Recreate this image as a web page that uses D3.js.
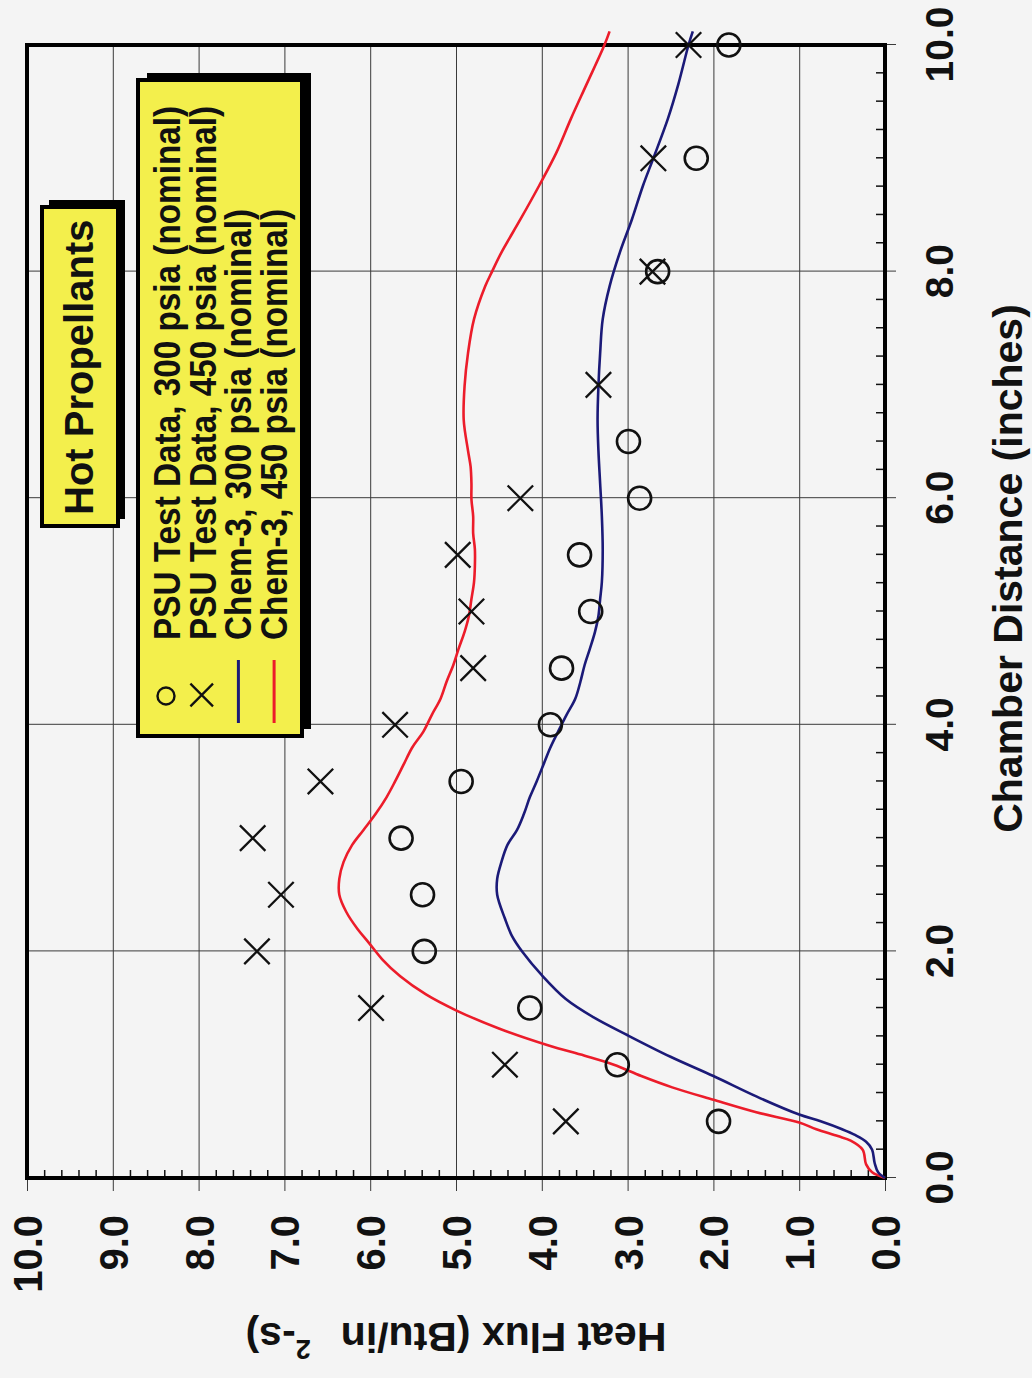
<!DOCTYPE html>
<html>
<head>
<meta charset="UTF-8">
<title>Hot Propellants - Heat Flux vs Chamber Distance</title>
<script src="https://d3js.org/d3.v7.min.js"></script>
<style>
  body { margin: 0; background: #f4f4f4; }
  svg { display: block; font-family: "Liberation Sans", Arial, Helvetica, sans-serif; font-weight: bold; }
</style>
</head>
<body>
<svg id="chart" width="1032" height="1378"></svg>
<script>
// ---- data ----
const distMajor = [0, 2, 4, 6, 8, 10];
const fluxMajor = [0, 1, 2, 3, 4, 5, 6, 7, 8, 9, 10];

// PSU test data, 300 psia (circles)
const psu300Dist = [0.5, 1, 1.5, 2, 2.5, 3, 3.5, 4, 4.5, 5, 5.5, 6, 6.5, 8, 9, 10];
const psu300Flux = [1.94, 3.12, 4.14, 5.37, 5.39, 5.64, 4.94, 3.90, 3.77, 3.43, 3.56, 2.86, 2.99, 2.65, 2.20, 1.82];

// PSU test data, 450 psia (crosses)
const psu450Dist = [0.5, 1, 1.5, 2, 2.5, 3, 3.5, 4, 4.5, 5, 5.5, 6, 7, 8, 9, 10];
const psu450Flux = [3.72, 4.43, 5.99, 7.32, 7.04, 7.37, 6.58, 5.71, 4.80, 4.82, 4.98, 4.25, 3.34, 2.71, 2.70, 2.29];

// Chem-3, 300 psia (blue)
const chem300Dist = [0, 0.05, 0.13, 0.25, 0.32, 0.38, 0.43, 0.5, 0.56, 0.72, 0.9, 1.07, 1.26, 1.42, 1.58, 1.79, 1.99, 2.14, 2.29, 2.5,
  2.64, 2.79, 2.94, 3.07, 3.21, 3.36, 3.5, 3.65, 3.8, 3.94, 4.09, 4.23, 4.38, 4.53, 4.67, 4.82, 4.96, 5.11, 5.26, 5.55,
  5.84, 6.13, 6.42, 6.69, 6.99, 7.28, 7.58, 7.87, 8.17, 8.46, 8.76, 9.0, 9.35, 9.65, 10.0, 10.12];
const chem300Flux = [0, 0.08, 0.12, 0.15, 0.22, 0.35, 0.5, 0.75, 1.0, 1.5, 2.0, 2.5, 3.0, 3.4, 3.72, 4.0, 4.22, 4.35, 4.43, 4.52,
  4.52, 4.47, 4.4, 4.29, 4.21, 4.14, 4.06, 3.98, 3.9, 3.81, 3.71, 3.61, 3.55, 3.5, 3.44, 3.38, 3.34, 3.32, 3.3, 3.29,
  3.3, 3.32, 3.34, 3.35, 3.34, 3.32, 3.29, 3.21, 3.09, 2.95, 2.82, 2.7, 2.53, 2.41, 2.29, 2.24];

// Chem-3, 450 psia (red)
const chem450Dist = [0, 0.05, 0.12, 0.25, 0.33, 0.37, 0.43, 0.49, 0.58, 0.69, 0.80, 0.90, 1.0, 1.08, 1.17, 1.32, 1.48, 1.62, 1.78, 1.93,
  2.08, 2.2, 2.35, 2.5, 2.64, 2.79, 2.94, 3.07, 3.21, 3.36, 3.5, 3.65, 3.8, 3.94, 4.09, 4.23, 4.38, 4.53, 4.67, 4.82,
  4.96, 5.11, 5.26, 5.4, 5.55, 5.69, 5.84, 5.99, 6.13, 6.28, 6.42, 6.69, 6.99, 7.28, 7.58, 7.87, 8.0, 8.17, 8.46, 8.76,
  9.05, 9.35, 9.65, 10.0, 10.12];
const chem450Flux = [0, 0.15, 0.22, 0.26, 0.4, 0.55, 0.8, 1.0, 1.5, 2.0, 2.48, 2.84, 3.16, 3.5, 3.92, 4.5, 5.0, 5.35, 5.65, 5.86,
  6.02, 6.15, 6.28, 6.36, 6.36, 6.31, 6.21, 6.08, 5.94, 5.81, 5.71, 5.61, 5.51, 5.38, 5.28, 5.18, 5.11, 5.03, 4.97, 4.90,
  4.85, 4.82, 4.79, 4.78, 4.78, 4.80, 4.80, 4.82, 4.82, 4.83, 4.86, 4.91, 4.90, 4.86, 4.79, 4.66, 4.58, 4.47, 4.25, 4.03,
  3.83, 3.66, 3.48, 3.27, 3.21];

const legendLabels = ["PSU Test Data, 300 psia (nominal)", "PSU Test Data, 450 psia (nominal)",
  "Chem-3, 300 psia (nominal)", "Chem-3, 450 psia (nominal)"];

// ---- chart ----
const W = 1133, H = 858;
const blue = "#1b1a78", red = "#ec1c2a", yellow = "#f3ef4c";

const x = d3.scaleLinear([0, 10], [0, W]);
const y = d3.scaleLinear([0, 10], [H, 0]);

// the whole plot is turned a quarter turn counter-clockwise on the page
const g = d3.select("#chart").append("g")
  .attr("transform", "translate(27,1178) rotate(-90)");

// grid lines (run a little past the frame as major ticks)
g.append("g").attr("transform", `translate(0,${H + 11})`)
  .call(d3.axisBottom(x).tickValues(distMajor).tickSize(-(H + 11)).tickFormat(""))
  .call(a => a.select(".domain").remove())
  .selectAll("line").attr("stroke", "#3a3a3a").attr("stroke-width", 1);

g.append("g").attr("transform", "translate(-13,0)")
  .call(d3.axisLeft(y).tickValues(fluxMajor).tickSize(-(W + 13)).tickFormat(""))
  .call(a => a.select(".domain").remove())
  .selectAll("line").attr("stroke", "#3a3a3a").attr("stroke-width", 1);

// minor ticks, pointing inward
const distMinor = d3.range(0.25, 10, 0.25).filter(d => Math.abs(d / 2 - Math.round(d / 2)) > 1e-6);
const fluxMinor = d3.range(0.2, 10, 0.2).filter(d => Math.abs(d - Math.round(d)) > 1e-6);

g.append("g").attr("transform", `translate(0,${H})`)
  .call(d3.axisBottom(x).tickValues(distMinor).tickSize(-9).tickFormat(""))
  .call(a => a.select(".domain").remove())
  .selectAll("line").attr("stroke", "#111").attr("stroke-width", 1.5);

g.append("g")
  .call(d3.axisLeft(y).tickValues(fluxMinor).tickSize(-8).tickFormat(""))
  .call(a => a.select(".domain").remove())
  .selectAll("line").attr("stroke", "#111").attr("stroke-width", 1.5);

// tick labels
g.append("g").attr("transform", `translate(0,${H})`)
  .call(d3.axisBottom(x).tickValues(distMajor).tickSize(0).tickFormat(d3.format(".1f")))
  .call(a => a.select(".domain").remove())
  .selectAll("text")
  .attr("y", 68).attr("dy", 0)
  .attr("font-size", 39).attr("font-weight", "bold")
  .attr("font-family", "Liberation Sans, Arial, sans-serif").attr("fill", "#111");

g.append("g")
  .call(d3.axisLeft(y).tickValues(fluxMajor).tickSize(0).tickPadding(37).tickFormat(d3.format(".1f")))
  .call(a => a.select(".domain").remove())
  .selectAll("text")
  .attr("dy", "0.36em")
  .attr("font-size", 40).attr("font-weight", "bold")
  .attr("font-family", "Liberation Sans, Arial, sans-serif").attr("fill", "#111");

// axis titles
g.append("text")
  .attr("x", W / 2 + 43).attr("y", 995)
  .attr("text-anchor", "middle").attr("font-size", 41).attr("fill", "#111")
  .text("Chamber Distance (inches)");

const yt = g.append("text")
  .attr("transform", `translate(-145,${H / 2}) rotate(-90)`)
  .attr("text-anchor", "middle").attr("font-size", 41).attr("fill", "#111");
yt.append("tspan").text("Heat Flux (Btu/in");
yt.append("tspan").attr("dx", 30).attr("dy", -17).attr("font-size", 27).text("2");
yt.append("tspan").attr("dy", 17).text("-s)");

// plot frame
g.append("rect")
  .attr("x", 0).attr("y", 0).attr("width", W).attr("height", H)
  .attr("fill", "none").attr("stroke", "#000").attr("stroke-width", 4);

// model curves
const line = d3.line().x(d => x(d[0])).y(d => y(d[1])).curve(d3.curveCatmullRom.alpha(0.5));

g.append("path")
  .datum(d3.zip(chem450Dist, chem450Flux))
  .attr("d", line).attr("fill", "none").attr("stroke", red).attr("stroke-width", 2.6);

g.append("path")
  .datum(d3.zip(chem300Dist, chem300Flux))
  .attr("d", line).attr("fill", "none").attr("stroke", blue).attr("stroke-width", 2.6);

// test data markers
g.append("g").selectAll("circle")
  .data(d3.zip(psu300Dist, psu300Flux))
  .join("circle")
  .attr("cx", d => x(d[0])).attr("cy", d => y(d[1])).attr("r", 11.5)
  .attr("fill", "none").attr("stroke", "#111").attr("stroke-width", 2.6);

g.append("g").selectAll("path")
  .data(d3.zip(psu450Dist, psu450Flux))
  .join("path")
  .attr("transform", d => `translate(${x(d[0])},${y(d[1])}) rotate(45)`)
  .attr("d", "M-18,0H18M0,-18V18")
  .attr("fill", "none").attr("stroke", "#111").attr("stroke-width", 2.3);

// "Hot Propellants" box
const tb = g.append("g");
tb.append("rect").attr("x", 659).attr("y", 22).attr("width", 319).attr("height", 76).attr("fill", "#000");
tb.append("rect").attr("x", 652).attr("y", 15).attr("width", 319).attr("height", 76)
  .attr("fill", yellow).attr("stroke", "#000").attr("stroke-width", 4);
tb.append("text").attr("x", 663).attr("y", 66).attr("font-size", 40).attr("fill", "#111")
  .text("Hot Propellants");

// legend box
const lg = g.append("g");
lg.append("rect").attr("x", 449).attr("y", 120).attr("width", 656).attr("height", 164).attr("fill", "#000");
lg.append("rect").attr("x", 442).attr("y", 111).attr("width", 656).attr("height", 164)
  .attr("fill", yellow).attr("stroke", "#000").attr("stroke-width", 4);

const rowY = i => 153 + i * 35.7;

lg.selectAll("text.entry").data(legendLabels).join("text")
  .attr("class", "entry")
  .attr("x", 538).attr("y", (d, i) => rowY(i))
  .attr("font-size", 37).attr("fill", "#111")
  .text(d => d)
  .each(function () {
    const L = this.getComputedTextLength();
    d3.select(this).attr("textLength", L * 0.9).attr("lengthAdjust", "spacingAndGlyphs");
  });

lg.append("circle").attr("cx", 482).attr("cy", rowY(0) - 14).attr("r", 8.5)
  .attr("fill", "none").attr("stroke", "#111").attr("stroke-width", 2.4);
lg.append("path")
  .attr("transform", `translate(483,${rowY(1) - 14}) rotate(45)`)
  .attr("d", "M-16,0H16M0,-16V16")
  .attr("fill", "none").attr("stroke", "#111").attr("stroke-width", 2.3);
[[blue, 2], [red, 3]].forEach(([c, i]) => {
  lg.append("line")
    .attr("x1", 455).attr("x2", 518).attr("y1", rowY(i) - 13).attr("y2", rowY(i) - 13)
    .attr("stroke", c).attr("stroke-width", 3);
});
</script>
</body>
</html>
